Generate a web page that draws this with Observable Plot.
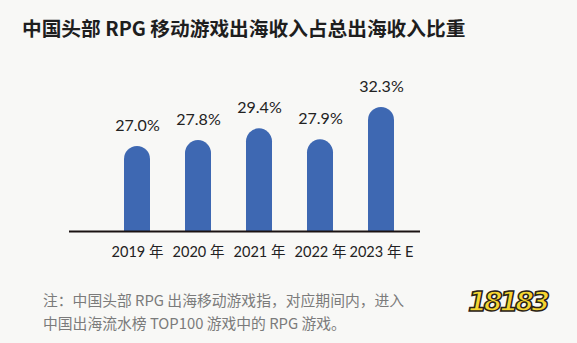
<!DOCTYPE html>
<html><head><meta charset="utf-8">
<script src="https://cdn.jsdelivr.net/npm/d3@7"></script>
<script src="https://cdn.jsdelivr.net/npm/@observablehq/plot@0.6"></script>
<style>
html,body{margin:0;padding:0;background:#f8f8f6;}
#wrap{position:relative;width:577px;height:343px;overflow:hidden;background:#f8f8f6;font-family:Lato,"Noto Sans CJK SC",sans-serif;}
#title{position:absolute;left:22px;top:13px;font-size:19.7px;font-weight:700;color:#1e1e1e;white-space:nowrap;font-family:"Noto Sans CJK SC",sans-serif;}
#chart{position:absolute;left:0;top:0;}
#note{position:absolute;left:43px;top:288px;font-size:14.8px;line-height:23px;color:#7b7b7b;white-space:nowrap;font-family:"Noto Sans CJK SC",sans-serif;}
#logo{position:absolute;left:468px;top:286px;font-size:27px;font-weight:900;font-style:italic;color:#f6d531;-webkit-text-stroke:1.5px #2a2216;font-family:"DejaVu Sans",sans-serif;letter-spacing:-3px;}
</style></head>
<body>
<div id="wrap">
  <div id="chart"></div>
  <div id="title"></div>
  <div id="note"></div>
  <div id="logo">18183</div>
</div>
<script>
const titleText = "中国头部 RPG 移动游戏出海收入占总出海收入比重";
const noteLines = ["注：中国头部 RPG 出海移动游戏指，对应期间内，进入", "中国出海流水榜 TOP100 游戏中的 RPG 游戏。"];
const years = ["2019 年", "2020 年", "2021 年", "2022 年", "2023 年 E"];
const shares = [27.0, 27.8, 29.4, 27.9, 32.3];
const yDomain = [15.45, 41.4];

document.getElementById("title").textContent = titleText;
document.getElementById("note").innerHTML = noteLines.join("<br>");

const data = years.map((y, i) => ({year: y, value: shares[i]}));

const plot = Plot.plot({
  width: 577,
  height: 260,
  marginLeft: 69,
  marginRight: 157,
  marginTop: 40,
  marginBottom: 29,
  style: {background: "transparent", fontFamily: "Lato, 'Noto Sans CJK SC', sans-serif"},
  x: {domain: years, paddingInner: 0.574, paddingOuter: 0.664, align: 0.68, label: null},
  y: {domain: yDomain, axis: null},
  marks: [
    Plot.barY(data, {x: "year", y1: yDomain[0], y2: "value", fill: "#3e68b2", rx: 13, insetBottom: -20, clip: true}),
    Plot.ruleY([yDomain[0]], {stroke: "#1a1212", strokeWidth: 2.2}),
    Plot.text(data, {x: "year", y: "value", text: d => d.value.toFixed(1) + "%", dy: -21, fontSize: 16, fill: "#222"}),
    Plot.axisX({tickSize: 0, tickPadding: 15, fontSize: 14.5, color: "#222", label: null})
  ]
});
document.getElementById("chart").appendChild(plot);
</script>
</body></html>
